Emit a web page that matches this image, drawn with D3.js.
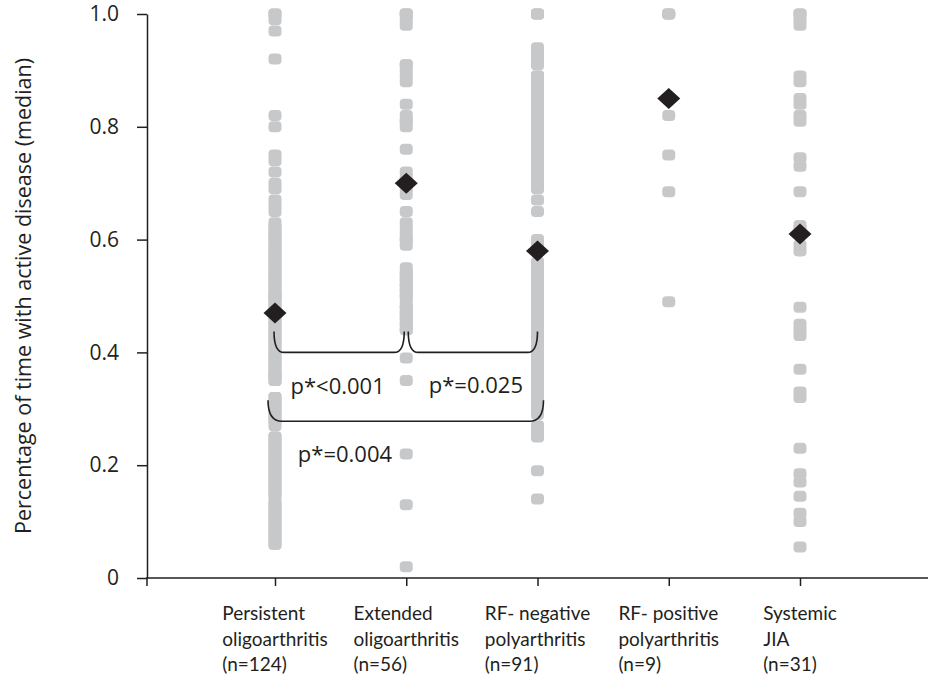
<!DOCTYPE html>
<html>
<head>
<meta charset="utf-8">
<script src="https://cdn.jsdelivr.net/npm/d3@7"></script>
<style>
  body { margin: 0; background: #fff; }
  svg { display: block; }
</style>
</head>
<body>
<svg id="chart" width="928" height="683"></svg>
<script>
// ---------------------------------------------------------------
//    DATA
// ---------------------------------------------------------------
const categories = ["Persistent oligoarthritis", "Extended oligoarthritis", "RF- negative polyarthritis", "RF- positive polyarthritis", "Systemic JIA"];
const labelLines = [
    ["Persistent", "oligoarthritis", "(n=124)"],
    ["Extended", "oligoarthritis", "(n=56)"],
    ["RF- negative", "polyarthritis", "(n=91)"],
    ["RF- positive", "polyarthritis", "(n=9)"],
    ["Systemic", "JIA", "(n=31)"]
];

// individual patients, fraction of time with active disease
const persistent = [
    1.00, 1.00, 0.99, 0.97, 0.92, 0.82, 0.80, 0.75, 0.74, 0.72, 0.70, 0.69, 0.67, 0.66, 0.65, 0.63,
    0.62, 0.61, 0.61, 0.60, 0.59, 0.59, 0.58, 0.57, 0.57, 0.56, 0.55, 0.55, 0.54, 0.53, 0.53, 0.52,
    0.51, 0.51, 0.50, 0.50, 0.49, 0.48, 0.48, 0.47, 0.47, 0.46, 0.45, 0.45,
    0.44, 0.43, 0.43, 0.42, 0.41, 0.41, 0.40, 0.39, 0.39, 0.38, 0.37, 0.37, 0.36, 0.35, 0.35,
    0.32, 0.31, 0.31, 0.30, 0.29, 0.29, 0.28, 0.27,
    0.25, 0.25, 0.24, 0.23, 0.23, 0.22, 0.21, 0.21, 0.20, 0.19, 0.19, 0.18, 0.17, 0.17, 0.16, 0.15, 0.15, 0.14,
    0.13, 0.13, 0.12, 0.11, 0.11, 0.10, 0.09, 0.09, 0.08, 0.07, 0.07, 0.06,
    0.62, 0.60, 0.58, 0.56, 0.54, 0.52, 0.50, 0.49, 0.46, 0.44, 0.42, 0.40, 0.38, 0.36, 0.36, 0.32,
    0.30, 0.28, 0.24, 0.22, 0.20, 0.18, 0.16, 0.12, 0.10, 0.08, 0.06
];
const extended = [
    1.00, 1.00, 1.00, 0.99, 0.98, 0.91, 0.91, 0.90, 0.89, 0.88, 0.84, 0.82, 0.81, 0.81, 0.80, 0.76,
    0.72, 0.71, 0.70, 0.70, 0.69, 0.68, 0.65, 0.63, 0.62, 0.61, 0.60, 0.60, 0.59,
    0.55, 0.54, 0.54, 0.53, 0.53, 0.52, 0.52, 0.51, 0.51, 0.50, 0.50, 0.49, 0.48, 0.48, 0.47, 0.47,
    0.46, 0.46, 0.45, 0.45, 0.44, 0.44, 0.39, 0.35, 0.22, 0.13, 0.02
];
const rfNegative = [
    1.00, 1.00, 1.00, 0.94, 0.93, 0.92, 0.91, 0.89, 0.89, 0.88, 0.88, 0.87, 0.87, 0.86, 0.86, 0.85,
    0.85, 0.84, 0.84, 0.83, 0.83, 0.82, 0.81, 0.81, 0.80, 0.80, 0.79, 0.78, 0.78, 0.77, 0.77, 0.76,
    0.75, 0.75, 0.74, 0.73, 0.72, 0.72, 0.71, 0.70, 0.70, 0.69, 0.67, 0.65, 0.60, 0.59, 0.58,
    0.56, 0.55, 0.55, 0.54, 0.53, 0.53, 0.52, 0.51, 0.51, 0.50, 0.49, 0.49, 0.48, 0.47, 0.47, 0.46,
    0.45, 0.45, 0.44, 0.43, 0.43, 0.42, 0.41, 0.41, 0.40, 0.39, 0.38, 0.37, 0.36, 0.35, 0.35, 0.34,
    0.33, 0.32, 0.32, 0.31, 0.30, 0.30, 0.29, 0.27, 0.26, 0.25, 0.19, 0.14
];
const rfPositive = [1.00, 1.00, 1.00, 0.85, 0.85, 0.82, 0.75, 0.685, 0.49];
const systemic = [
    1.00, 1.00, 0.99, 0.98, 0.89, 0.88, 0.85, 0.84, 0.82, 0.81, 0.745, 0.73, 0.685, 0.625, 0.62, 0.59,
    0.58, 0.48, 0.45, 0.44, 0.43, 0.37, 0.33, 0.32, 0.23, 0.185, 0.17, 0.145, 0.115, 0.10, 0.055
];
const groups = [persistent, extended, rfNegative, rfPositive, systemic];

// group medians (diamonds)
const medians = [0.47, 0.70, 0.58, 0.85, 0.61];

const yTicks = [0, 0.2, 0.4, 0.6, 0.8, 1.0];
const yTickLabels = ["0", "0.2", "0.4", "0.6", "0.8", "1.0"];

// pairwise tests shown as braces
const comparisons = [
    { from: "Persistent oligoarthritis", to: "Extended oligoarthritis", label: "p*<0.001" },
    { from: "Extended oligoarthritis", to: "RF- negative polyarthritis", label: "p*=0.025" },
    { from: "Persistent oligoarthritis", to: "RF- negative polyarthritis", label: "p*=0.004" }
];

// ---------------------------------------------------------------
//    DRAWING
// ---------------------------------------------------------------
const svg = d3.select("#chart");
const ink = "#231f20";
const dotColor = "#c7c8ca";

const x = d3.scalePoint().domain(categories).range([275, 800]);
const y = d3.scaleLinear().domain([0, 1]).range([578, 14]);

// y axis
const yAxis = svg.append("g")
    .attr("transform", "translate(147,0)")
    .call(d3.axisLeft(y)
        .tickValues(yTicks)
        .tickFormat((d, i) => yTickLabels[i])
        .tickSize(10)
        .tickSizeOuter(0)
        .tickPadding(18));
yAxis.selectAll("path, line").attr("stroke", ink).attr("stroke-width", 1.5);
yAxis.selectAll("text")
    .attr("fill", ink)
    .style("font-family", "'Open Sans', sans-serif")
    .style("font-size", "21px");

// x axis: baseline runs the full width, ticks under each group
svg.append("line")
    .attr("x1", 146).attr("x2", 928)
    .attr("y1", y(0)).attr("y2", y(0))
    .attr("stroke", ink).attr("stroke-width", 1.5);
svg.append("line")
    .attr("x1", 147).attr("x2", 147)
    .attr("y1", y(0)).attr("y2", y(0) + 8)
    .attr("stroke", ink).attr("stroke-width", 1.5);
const xAxis = svg.append("g")
    .attr("transform", `translate(0,${y(0)})`)
    .call(d3.axisBottom(x).tickSize(8).tickFormat(""));
xAxis.select(".domain").remove();
xAxis.selectAll("line").attr("stroke", ink).attr("stroke-width", 1.5);

// y title
svg.append("text")
    .attr("transform", `translate(22,${(y(0) + y(1)) / 2}) rotate(-90)`)
    .attr("text-anchor", "middle")
    .attr("dominant-baseline", "central")
    .attr("fill", ink)
    .style("font-family", "'Open Sans', sans-serif")
    .style("font-size", "21.5px")
    .text("Percentage of time with active disease (median)");

// patient dots
groups.forEach((vals, i) => {
    svg.append("g").selectAll("rect")
        .data(vals)
        .join("rect")
        .attr("x", x(categories[i]) - 6.5)
        .attr("y", d => y(d) - 5.5)
        .attr("width", 13)
        .attr("height", 11)
        .attr("rx", 4)
        .attr("fill", dotColor);
});

// braces
function bracePath(x1, x2, yBase, rise, dx) {
    const yTop = yBase - rise;
    return `M${x1},${yTop} Q${x1},${yBase} ${x1 + dx},${yBase} L${x2 - dx},${yBase} Q${x2},${yBase} ${x2},${yTop}`;
}
const braceGroup = svg.append("g")
    .attr("fill", "none")
    .attr("stroke", ink)
    .attr("stroke-width", 1.6);

// upper pair of braces meet in a cusp over the middle group
const upperBase = y(0.40);
braceGroup.append("path")
    .attr("d", bracePath(x(comparisons[0].from) - 1, x(comparisons[0].to) - 2, upperBase, 21, 10));
braceGroup.append("path")
    .attr("d", bracePath(x(comparisons[1].from) + 2, x(comparisons[1].to), upperBase, 21, 10));
// lower brace spans three groups, ends reach a little outside
const lowerBase = y(0.278);
braceGroup.append("path")
    .attr("d", bracePath(x(comparisons[2].from) - 7, x(comparisons[2].to) + 6, lowerBase, 21, 14));

const pLabels = [
    { x: (x(comparisons[0].from) + x(comparisons[0].to)) / 2 - 3, y: upperBase + 33 },
    { x: (x(comparisons[1].from) + x(comparisons[1].to)) / 2 + 4, y: upperBase + 32 },
    { x: x(comparisons[2].from) + 70, y: lowerBase + 32 }
];
svg.append("g").selectAll("text")
    .data(comparisons)
    .join("text")
    .attr("x", (d, i) => pLabels[i].x)
    .attr("y", (d, i) => pLabels[i].y)
    .attr("text-anchor", "middle")
    .attr("dominant-baseline", "central")
    .attr("fill", ink)
    .style("font-family", "'Open Sans', sans-serif")
    .style("font-size", "22px")
    .text(d => d.label);

// medians
svg.append("g").selectAll("path")
    .data(medians)
    .join("path")
    .attr("transform", (d, i) => `translate(${x(categories[i])},${y(d)})`)
    .attr("d", "M0,-10.5 L11.5,0 L0,10.5 L-11.5,0 Z")
    .attr("fill", ink);

// category labels, left aligned block centred under each tick
categories.forEach((c, i) => {
    const t = svg.append("text")
        .attr("fill", ink)
        .style("font-family", "Lato, sans-serif")
        .style("font-size", "19px");
    labelLines[i].forEach((line, j) => {
        t.append("tspan").attr("x", 0).attr("y", 620 + j * 25.5).text(line);
    });
    const w = t.node().getBBox().width;
    t.attr("transform", `translate(${x(c) - w / 2},0)`);
});
</script>
</body>
</html>
